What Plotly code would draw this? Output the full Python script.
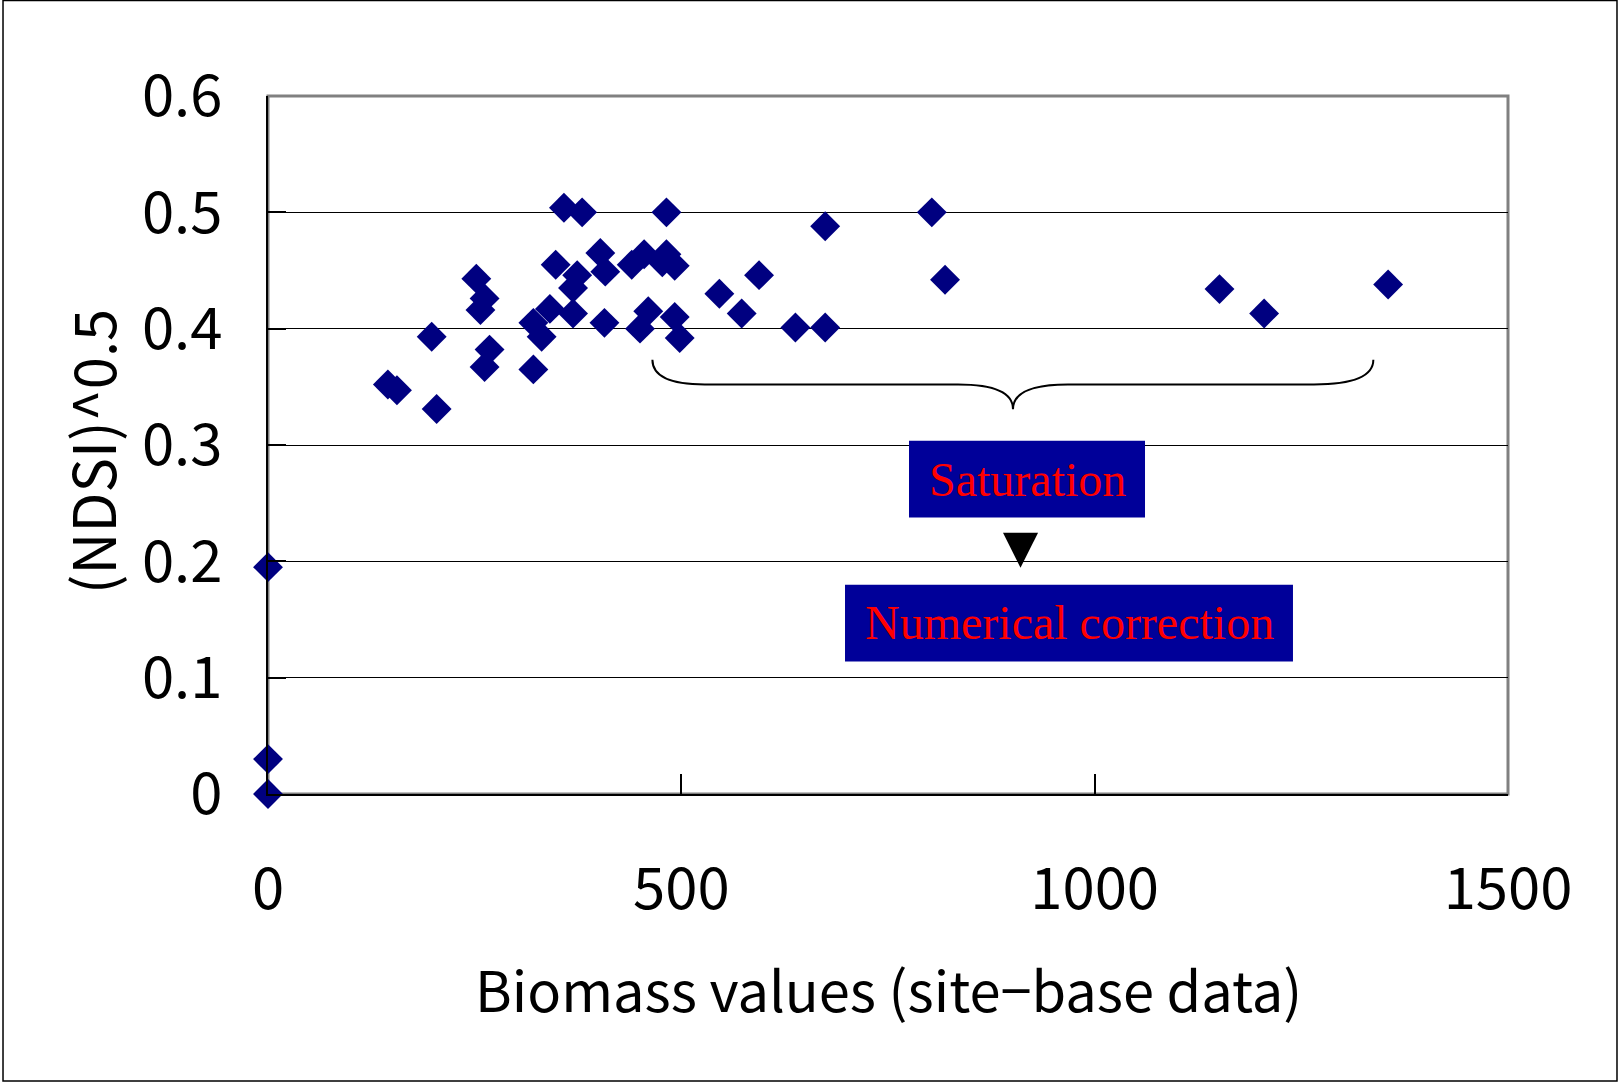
import plotly.graph_objects as go

# Site-base biomass samples and the square root of NDSI observed at each site
biomass = [0, 0, 0, 145, 156, 198, 204, 252, 262, 257, 268, 262, 321, 321, 331,
           341, 348, 358, 380, 374, 369, 369, 402, 408, 407, 440, 455, 477, 482,
           482, 492, 492, 498, 460, 450, 546, 573, 594, 638, 674, 674, 803, 819,
           1151, 1205, 1355]
ndsi_sqrt = [0.195, 0.030, 0.0, 0.352, 0.347, 0.393, 0.331, 0.443, 0.426, 0.416,
             0.382, 0.367, 0.365, 0.405, 0.393, 0.417, 0.455, 0.504, 0.500, 0.446,
             0.435, 0.413, 0.465, 0.449, 0.405, 0.455, 0.464, 0.457, 0.464, 0.500,
             0.454, 0.410, 0.392, 0.415, 0.400, 0.430, 0.413, 0.446, 0.401, 0.488,
             0.401, 0.500, 0.442, 0.434, 0.413, 0.438]

x_ticks = [0, 500, 1000, 1500]
x_tick_labels = ["0", "500", "1000", "1500"]
y_ticks = [0, 0.1, 0.2, 0.3, 0.4, 0.5, 0.6]
y_tick_labels = ["0", "0.1", "0.2", "0.3", "0.4", "0.5", "0.6"]

GOTHIC = "Noto Sans CJK JP"
SERIF = "Liberation Serif"
BOX_BLUE = "#000099"

fig = go.Figure()
fig.add_trace(go.Scatter(
    x=biomass, y=ndsi_sqrt, mode="markers",
    marker=dict(symbol="diamond", size=23, color="#000080", line=dict(width=0)),
    cliponaxis=False, showlegend=False,
))

shapes = [
    # outer figure border
    dict(type="rect", xref="paper", yref="paper", x0=-0.2137, x1=1.0879,
         y0=-0.4113, y1=1.1367, line=dict(color="#000000", width=1.5), layer="below"),
    # plot-area frame
    dict(type="rect", xref="paper", yref="paper", x0=0, x1=1, y0=0, y1=1,
         line=dict(color="#808080", width=3), layer="below"),
    # curly brace over the saturated range
    dict(type="path", xref="x", yref="y",
         path=("M 465,0.3732 Q 465,0.352 528.3,0.352 L 834.7,0.352 "
               "Q 901.2,0.352 901.2,0.3308 Q 901.2,0.352 967.7,0.352 "
               "L 1265.3,0.352 Q 1337.1,0.352 1337.1,0.3732"),
         line=dict(color="#000000", width=2)),
    # label boxes
    dict(type="rect", xref="x", yref="y", x0=775.4, x1=1060.9, y0=0.2377, y1=0.3036,
         fillcolor=BOX_BLUE, line=dict(width=0)),
    dict(type="rect", xref="x", yref="y", x0=698.0, x1=1239.9, y0=0.114, y1=0.1799,
         fillcolor=BOX_BLUE, line=dict(width=0)),
    # down arrow between the boxes
    dict(type="path", xref="x", yref="y",
         path="M 889.1,0.2246 L 931.5,0.2246 L 910.3,0.1945 Z",
         fillcolor="#000000", line=dict(color="#000000", width=0)),
]

annotations = [
    dict(text="Saturation", x=918.2, y=0.2706, xref="x", yref="y", showarrow=False,
         font=dict(family=SERIF, size=48, color="#FF0000"), xanchor="center", yanchor="middle"),
    dict(text="Numerical correction", x=969.0, y=0.1470, xref="x", yref="y", showarrow=False,
         font=dict(family=SERIF, size=48, color="#FF0000"), xanchor="center", yanchor="middle"),
    dict(text="Biomass values (site−base data)", x=0.5, y=-0.2770, xref="paper", yref="paper",
         showarrow=False, font=dict(family=GOTHIC, size=56, color="#000000"),
         xanchor="center", yanchor="middle"),
    dict(text="(NDSI)^0.5", x=-0.1427, y=0.49, xref="paper", yref="paper", textangle=-90,
         showarrow=False, font=dict(family=GOTHIC, size=58, color="#000000"),
         xanchor="center", yanchor="middle"),
]

fig.update_layout(
    width=1619, height=1083,
    margin=dict(l=268, r=111, t=96, b=289, pad=0),
    paper_bgcolor="#FFFFFF", plot_bgcolor="#FFFFFF",
    shapes=shapes, annotations=annotations,
    xaxis=dict(
        range=[0, 1500], tickvals=x_ticks, ticktext=x_tick_labels,
        showgrid=False, zeroline=False, showline=True, linecolor="#000000", linewidth=2,
        ticks="inside", ticklen=20, tickwidth=1.5, tickcolor="#000000",
        tickfont=dict(family=GOTHIC, size=58, color="#000000"), ticklabelstandoff=43,
    ),
    yaxis=dict(
        range=[0, 0.6], tickvals=y_ticks, ticktext=y_tick_labels,
        showgrid=True, gridcolor="#000000", gridwidth=1, zeroline=False,
        showline=True, linecolor="#000000", linewidth=2,
        ticks="inside", ticklen=18, tickwidth=1.5, tickcolor="#000000",
        tickfont=dict(family=GOTHIC, size=58, color="#000000"), ticklabelstandoff=32,
    ),
)

fig.write_html("out.html")
